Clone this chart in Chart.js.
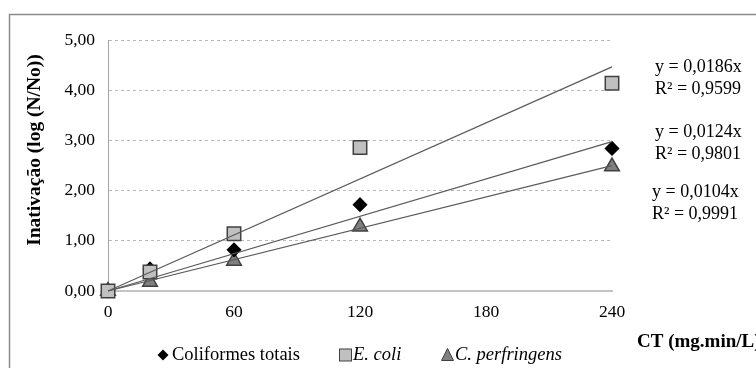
<!DOCTYPE html>
<html>
<head>
<meta charset="utf-8">
<script src="https://cdn.jsdelivr.net/npm/chart.js@4/dist/chart.umd.min.js"></script>
<style>
  html, body { margin: 0; padding: 0; background: #fff; }
  #wrap { position: relative; width: 756px; height: 368px; }
</style>
</head>
<body>
<div id="wrap"><canvas id="chart" width="756" height="368"></canvas></div>
<script>
"use strict";

// ── Data ──
const ctValues     = [0, 20, 60, 120, 240];
const coliformes   = [0, 0.44, 0.82, 1.72, 2.84];
const eColi        = [0, 0.38, 1.14, 2.86, 4.14];
const perfringens  = [0, 0.18, 0.60, 1.28, 2.48];

const seriesNames  = ["Coliformes totais", "E. coli", "C. perfringens"];
const slopes       = [0.0124, 0.0186, 0.0104];
const equations    = ["y = 0,0124x", "y = 0,0186x", "y = 0,0104x"];
const rSquared     = ["R² = 0,9801", "R² = 0,9599", "R² = 0,9991"];

const xTicks = [0, 60, 120, 180, 240];
const yTicks = [0, 1, 2, 3, 4, 5];

const SERIF = "'Liberation Serif', 'Times New Roman', serif";

const toPts = ys => ctValues.map((x, i) => ({ x, y: ys[i] }));
const trend = k => [0, 240].map(x => ({ x, y: k * x }));

// ── Annotations / legend / titles ──
const extras = {
  id: "extras",
  beforeDraw(chart) {
    const c = chart.ctx;
    c.save();
    c.strokeStyle = "#8c8c8c";
    c.lineWidth = 1.5;
    c.strokeRect(9.5, 14.5, 900, 500);
    c.restore();
  },
  afterDraw(chart) {
    const c = chart.ctx;
    c.save();
    c.fillStyle = "#000";
    c.textBaseline = "middle";

    // equations (E. coli, Coliformes, C. perfringens from top)
    c.font = `18px ${SERIF}`;
    c.textAlign = "left";
    const eq = [
      [equations[1], rSquared[1], 655, 67, 89],
      [equations[0], rSquared[0], 655, 132, 154],
      [equations[2], rSquared[2], 652, 192, 214],
    ];
    eq.forEach(([a, b, x, y1, y2]) => {
      c.fillText(a, x, y1);
      c.fillText(b, x, y2);
    });

    // y title
    c.font = `bold 19.5px ${SERIF}`;
    c.save();
    c.translate(35, 150);
    c.rotate(-Math.PI / 2);
    c.textAlign = "center";
    c.fillText("Inativação (log (N/No))", 0, 0);
    c.restore();

    // x title
    c.textAlign = "left";
    c.font = `bold 19px ${SERIF}`;
    c.fillText("CT (mg.min/L)", 637, 342);

    // legend
    const ly = 355;
    c.lineWidth = 1;
    c.strokeStyle = "#404040";
    // diamond
    c.fillStyle = "#000";
    c.beginPath();
    c.moveTo(163, ly - 5.5); c.lineTo(168.5, ly); c.lineTo(163, ly + 5.5); c.lineTo(157.5, ly);
    c.closePath(); c.fill();
    // square
    c.fillStyle = "#c0c0c0";
    c.fillRect(339.5, ly - 6, 12, 12);
    c.strokeRect(339.5, ly - 6, 12, 12);
    // triangle
    c.fillStyle = "#808080";
    c.beginPath();
    c.moveTo(447.5, ly - 6.5); c.lineTo(453.5, ly + 5.5); c.lineTo(441.5, ly + 5.5);
    c.closePath(); c.fill(); c.stroke();

    c.fillStyle = "#000";
    c.font = `18.5px ${SERIF}`;
    c.fillText(seriesNames[0], 172, ly);
    c.font = `italic 18.5px ${SERIF}`;
    c.fillText(seriesNames[1], 353, ly);
    c.fillText(seriesNames[2], 455, ly);
    c.restore();
  },
};

const markerStyle = {
  coliformes:  { pointStyle: "rectRot",  radius: 6.5, bg: "#000000", border: "#000000" },
  eColi:       { pointStyle: "rect",     radius: 9.5, bg: "#c0c0c0", border: "#404040" },
  perfringens: { pointStyle: "triangle", radius: 8.5, bg: "#808080", border: "#404040" },
};

function pointSet(label, ys, st) {
  return {
    label,
    data: toPts(ys),
    showLine: false,
    clip: false,
    pointStyle: st.pointStyle,
    pointRadius: st.radius,
    pointHoverRadius: st.radius,
    backgroundColor: st.bg,
    borderColor: st.border,
    pointBorderWidth: 1.5,
    order: 2,
  };
}

function trendSet(k) {
  return {
    label: "trend",
    data: trend(k),
    showLine: true,
    clip: false,
    pointRadius: 0,
    borderColor: "#5a5a5a",
    borderWidth: 1.2,
    fill: false,
    order: 1,
  };
}

new Chart(document.getElementById("chart"), {
  type: "scatter",
  data: {
    datasets: [
      pointSet(seriesNames[1], eColi, markerStyle.eColi),
      pointSet(seriesNames[0], coliformes, markerStyle.coliformes),
      pointSet(seriesNames[2], perfringens, markerStyle.perfringens),
      trendSet(slopes[0]),
      trendSet(slopes[1]),
      trendSet(slopes[2]),
    ],
  },
  options: {
    responsive: false,
    animation: false,
    devicePixelRatio: 1,
    layout: { padding: { left: 0, right: 144, top: 40, bottom: 0 } },
    plugins: { legend: { display: false }, tooltip: { enabled: false } },
    scales: {
      x: {
        type: "linear",
        min: 0,
        max: 240,
        afterFit: s => { s.height = 77; },
        afterBuildTicks: s => { s.ticks = xTicks.map(value => ({ value })); },
        ticks: { color: "#000", font: { family: SERIF, size: 17.5 }, padding: 11 },
        grid: { display: false, drawTicks: false },
        border: { display: true, color: "#c4c4c4", width: 2 },
      },
      y: {
        min: 0,
        max: 5,
        afterFit: s => { s.width = 108; },
        afterBuildTicks: s => { s.ticks = yTicks.map(value => ({ value })); },
        ticks: {
          color: "#000",
          font: { family: SERIF, size: 17.5 },
          padding: 13,
          callback: v => v.toFixed(2).replace(".", ","),
        },
        grid: { color: "#b8b8b8", lineWidth: 1, drawTicks: false },
        border: { display: true, color: "#a6a6a6", width: 1, dash: [3, 3] },
      },
    },
  },
  plugins: [extras],
});
</script>
</body>
</html>
